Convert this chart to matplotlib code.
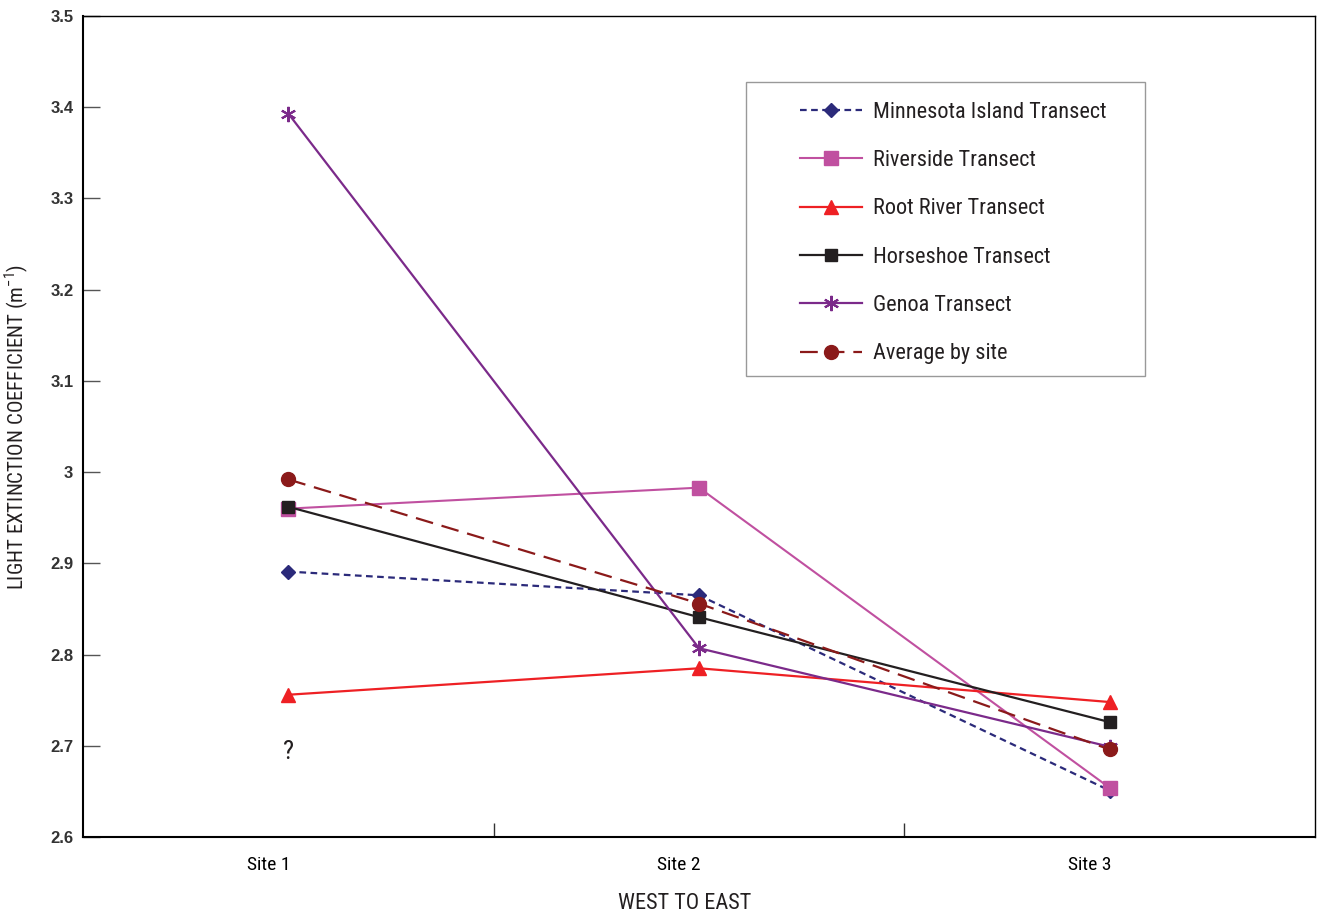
import numpy as np
import matplotlib.pyplot as plt
import matplotlib.transforms as mtransforms
from matplotlib.patches import Rectangle

plt.rcParams['font.family'] = ['Roboto Condensed', 'Liberation Sans Narrow', 'DejaVu Sans']
plt.rcParams['font.stretch'] = 'condensed'

sites = ["Site 1", "Site 2", "Site 3"]
minnesota = [2.891, 2.865, 2.651]
riverside = [2.960, 2.983, 2.654]
root_river = [2.756, 2.785, 2.748]
horseshoe = [2.962, 2.841, 2.726]
genoa = [3.393, 2.807, 2.699]
average = [2.992, 2.856, 2.696]

x = np.arange(len(sites))

fig = plt.figure(figsize=(13.18, 9.16), dpi=100)
ax = fig.add_axes([0.063, 0.0862, 0.9347, 0.8963])

ax.plot(x, minnesota, color="#2b2a7a", ls=(0, (3, 2)), lw=1.6, marker="D", ms=7,
        label="Minnesota Island Transect")
ax.plot(x, riverside, color="#c050a0", lw=1.5, marker="s", ms=10,
        label="Riverside Transect")
ax.plot(x, root_river, color="#ee2024", lw=1.6, marker="^", ms=10,
        label="Root River Transect")
ax.plot(x, horseshoe, color="#231f20", lw=1.6, marker="s", ms=9,
        label="Horseshoe Transect")
ax.plot(x, genoa, color="#7b2a8a", lw=1.6, marker=(6, 2, 0), ms=11, mew=1.5,
        label="Genoa Transect")
ax.plot(x, average, color="#8b1a1a", ls=(0, (8, 4)), lw=1.6, marker="o", ms=10,
        label="Average by site")

ax.text(0, 2.693, "?", fontsize=19, ha="center", va="center", color="#231f20")

ax.set_xlim(-0.5, 2.5)
ax.set_ylim(2.6, 3.5)
ax.set_yticks(np.arange(2.6, 3.51, 0.1))
ax.set_yticklabels(["2.6", "2.7", "2.8", "2.9", "3", "3.1", "3.2", "3.3", "3.4", "3.5"],
                   fontsize=12, fontweight="bold", color="#333333",
                   family="Liberation Sans", fontstretch="normal")
ax.tick_params(axis="y", direction="in", length=12, width=1, color="#555555", pad=7)

ax.set_xticks(x)
ax.set_xticklabels(sites, fontsize=14)
ax.set_xticks([0.5, 1.5], minor=True)
ax.tick_params(axis="x", which="major", length=0, pad=14)
ax.tick_params(axis="x", which="minor", direction="in", length=10, width=1, color="#333333")
shift = mtransforms.ScaledTranslation(-0.2, 0, fig.dpi_scale_trans)
for lbl in ax.get_xticklabels():
    lbl.set_transform(lbl.get_transform() + shift)

ax.spines["left"].set_linewidth(1.5)
ax.spines["bottom"].set_linewidth(1.5)
ax.spines["top"].set_linewidth(1)
ax.spines["right"].set_linewidth(1)

ax.set_xlabel("WEST TO EAST", fontsize=16, labelpad=13, color="#231f20")
ax.xaxis.label.set_transform(ax.xaxis.label.get_transform()
                             + mtransforms.ScaledTranslation(-0.14, 0, fig.dpi_scale_trans))
ax.set_ylabel("LIGHT EXTINCTION COEFFICIENT (m$^{\\mathregular{-1}}$)", fontsize=15,
              labelpad=14, color="#231f20")

# legend frame drawn separately so the padding can be uneven
ax.add_patch(Rectangle((0.538, 0.5615), 0.324, 0.358, transform=ax.transAxes,
                       facecolor="white", edgecolor="#999999", lw=1, zorder=4))
leg = ax.legend(loc="upper left", bbox_to_anchor=(0.582, 0.8955), borderaxespad=0,
                borderpad=0, fontsize=16, frameon=False,
                handlelength=2.8, handletextpad=0.5, labelspacing=1.23)
leg.set_zorder(5)
for t in leg.get_texts():
    t.set_color("#231f20")

fig.savefig("out.png", dpi=100)
